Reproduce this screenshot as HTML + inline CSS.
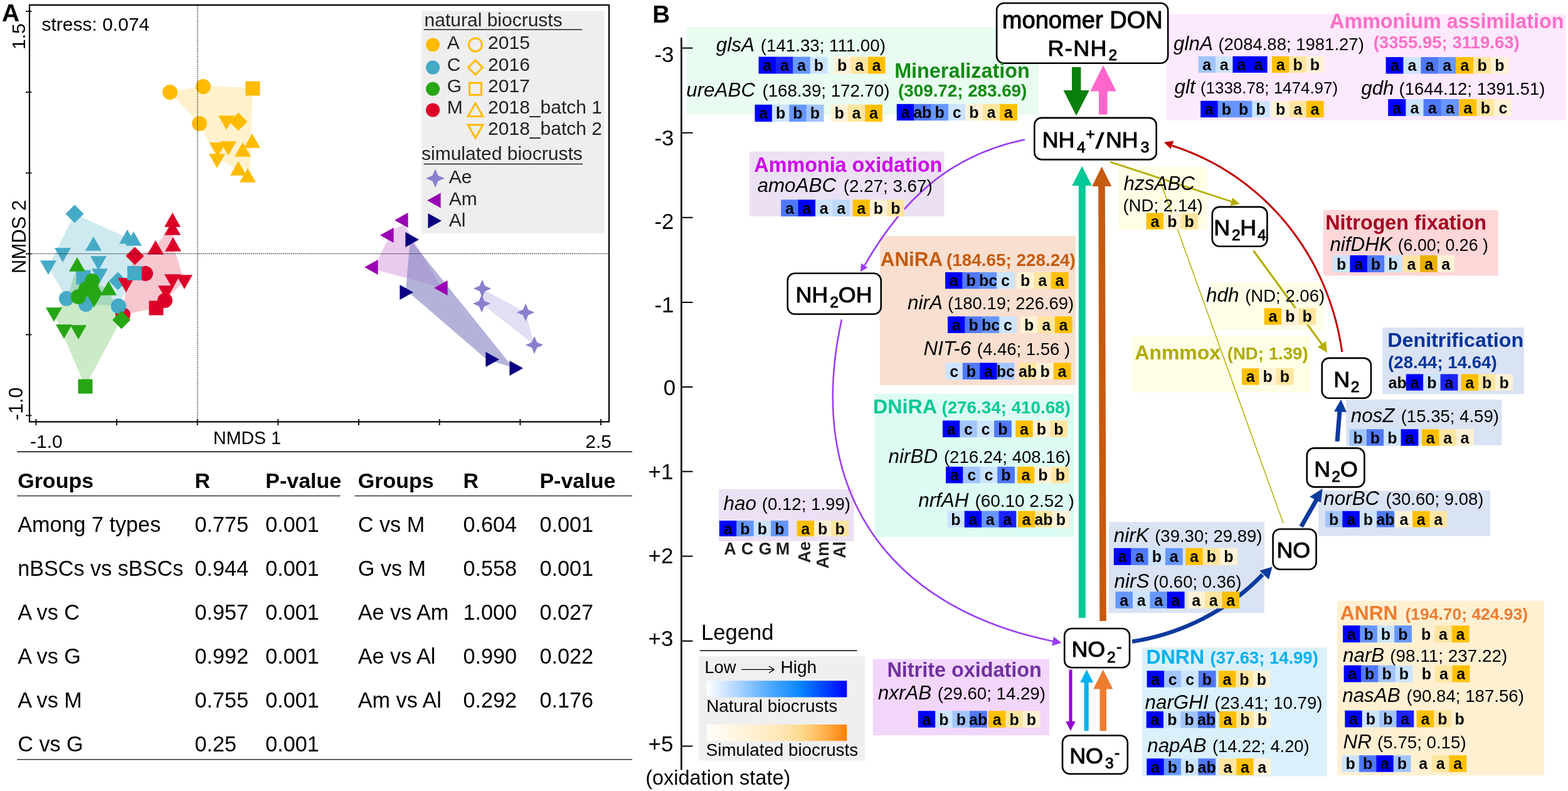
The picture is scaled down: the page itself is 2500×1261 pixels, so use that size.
<!DOCTYPE html><html><head><meta charset="utf-8"><title>Figure</title><style>html,body{margin:0;padding:0;background:#fff;}svg{display:block;}text{font-family:"Liberation Sans", Arial, Helvetica, sans-serif;}</style></head><body>
<svg width="2500" height="1261" viewBox="0 0 2500 1261">
<rect width="2500" height="1261" fill="#fff"/>
<text x="3.0" y="34.0" font-size="39" font-weight="bold" font-style="normal" fill="#000" text-anchor="start" >A</text>
<text x="66.5" y="49.0" font-size="30" font-weight="normal" font-style="normal" fill="#000" text-anchor="start" >stress: 0.074</text>
<polygon points="270.0,147.0 323.0,137.0 403.0,140.0 399.0,270.0 380.0,272.0 343.0,250.0 318.0,196.0" fill="#ffbb00" fill-opacity="0.2"/>
<polygon points="119.0,341.0 203.0,379.0 213.0,382.0 214.0,436.0 189.0,488.0 137.0,485.0 106.0,476.0 77.0,425.0" fill="#45aac6" fill-opacity="0.26"/>
<polygon points="123.0,423.0 147.0,448.0 173.0,461.0 193.0,510.0 136.0,616.0 86.0,500.0 107.0,476.0" fill="#26a614" fill-opacity="0.24"/>
<polygon points="275.0,352.0 276.0,391.0 294.0,448.0 263.0,479.0 249.0,491.0 196.0,502.0 201.0,453.0 215.0,408.0 248.0,396.0" fill="#dc0028" fill-opacity="0.22"/>
<polygon points="645,358 626,366 602,415 602,431 703,458" fill="#dca8e2" fill-opacity="0.6"/>
<polygon points="654,382 647,462 776,573 818,586" fill="#8a88c4" fill-opacity="0.65"/>
<polygon points="770,461 768,484 852,550 838,498" fill="#e2def4"/>
<circle cx="271" cy="147" r="12.0" fill="#ffbb00"/>
<circle cx="324" cy="138" r="12.0" fill="#ffbb00"/>
<circle cx="318" cy="197" r="12.0" fill="#ffbb00"/>
<rect x="391.5" y="129.5" width="23.0" height="23.0" fill="#ffbb00"/>
<polygon points="380,179.5 394.5,194 380,208.5 365.5,194" fill="#ffbb00"/>
<polygon points="361,207.0 374.0,184.25 348.0,184.25" fill="#ffbb00"/>
<polygon points="347,250.0 360.0,227.25 334.0,227.25" fill="#ffbb00"/>
<polygon points="364,248.0 377.0,225.25 351.0,225.25" fill="#ffbb00"/>
<polygon points="402,213.0 415.0,235.75 389.0,235.75" fill="#ffbb00"/>
<polygon points="387,227.0 400.0,249.75 374.0,249.75" fill="#ffbb00"/>
<polygon points="346,268.0 359.0,245.25 333.0,245.25" fill="#ffbb00"/>
<polygon points="380,257.0 393.0,279.75 367.0,279.75" fill="#ffbb00"/>
<polygon points="395,268.0 408.0,290.75 382.0,290.75" fill="#ffbb00"/>
<polygon points="119,326.5 133.5,341 119,355.5 104.5,341" fill="#45aac6"/>
<polygon points="203,366.0 216.0,388.75 190.0,388.75" fill="#45aac6"/>
<polygon points="213,369.0 226.0,391.75 200.0,391.75" fill="#45aac6"/>
<polygon points="149,377.0 162.0,399.75 136.0,399.75" fill="#45aac6"/>
<polygon points="100,418.0 113.0,395.25 87.0,395.25" fill="#45aac6"/>
<polygon points="77,438.0 90.0,415.25 64.0,415.25" fill="#45aac6"/>
<polygon points="157,431.0 170.0,408.25 144.0,408.25" fill="#45aac6"/>
<polygon points="159,451.0 172.0,428.25 146.0,428.25" fill="#45aac6"/>
<rect x="121.5" y="430.5" width="23.0" height="23.0" fill="#45aac6"/>
<polygon points="188,433.5 202.5,448 188,462.5 173.5,448" fill="#45aac6"/>
<circle cx="106" cy="476" r="12.0" fill="#45aac6"/>
<circle cx="137" cy="485" r="12.0" fill="#45aac6"/>
<circle cx="189" cy="488" r="12.0" fill="#45aac6"/>
<polygon points="123,410.0 136.0,432.75 110.0,432.75" fill="#26a614"/>
<circle cx="147" cy="448" r="12.0" fill="#26a614"/>
<circle cx="137" cy="461" r="12.0" fill="#26a614"/>
<circle cx="125" cy="473" r="12.0" fill="#26a614"/>
<polygon points="173,448.0 186.0,470.75 160.0,470.75" fill="#26a614"/>
<polygon points="150,445.0 163.0,467.75 137.0,467.75" fill="#26a614"/>
<polygon points="150,490.0 163.0,467.25 137.0,467.25" fill="#26a614"/>
<polygon points="86,513.0 99.0,490.25 73.0,490.25" fill="#26a614"/>
<polygon points="102,540.0 115.0,517.25 89.0,517.25" fill="#26a614"/>
<polygon points="125,541.0 138.0,518.25 112.0,518.25" fill="#26a614"/>
<rect x="124.5" y="604.5" width="23.0" height="23.0" fill="#26a614"/>
<polygon points="275,339.0 288.0,361.75 262.0,361.75" fill="#dc0028"/>
<polygon points="275,352.0 288.0,374.75 262.0,374.75" fill="#dc0028"/>
<polygon points="276,378.0 289.0,400.75 263.0,400.75" fill="#dc0028"/>
<polygon points="248,383.0 261.0,405.75 235.0,405.75" fill="#dc0028"/>
<polygon points="215,393.5 229.5,408 215,422.5 200.5,408" fill="#dc0028"/>
<circle cx="232" cy="436" r="12.0" fill="#dc0028"/>
<polygon points="201,466.0 214.0,443.25 188.0,443.25" fill="#dc0028"/>
<polygon points="275,460.0 288.0,437.25 262.0,437.25" fill="#dc0028"/>
<polygon points="294,461.0 307.0,438.25 281.0,438.25" fill="#dc0028"/>
<polygon points="265,478.0 278.0,455.25 252.0,455.25" fill="#dc0028"/>
<circle cx="263" cy="479" r="12.0" fill="#dc0028"/>
<rect x="237.5" y="479.5" width="23.0" height="23.0" fill="#dc0028"/>
<circle cx="196" cy="502" r="12.0" fill="#dc0028"/>
<rect x="203.0" y="424.0" width="23.0" height="23.0" fill="#45aac6"/>
<circle cx="189" cy="488" r="12.0" fill="#45aac6"/>
<polygon points="193.6,495.5 208.1,510 193.6,524.5 179.1,510" fill="#26a614"/>
<polygon points="629.0,351 650.6,339.0 650.6,363.0" fill="#9900b4"/>
<polygon points="606.0,375 627.6,363.0 627.6,387.0" fill="#9900b4"/>
<polygon points="581.0,426 602.6,414.0 602.6,438.0" fill="#9900b4"/>
<polygon points="692.0,459 713.6,447.0 713.6,471.0" fill="#9900b4"/>
<polygon points="668.0,382 646.4,370.0 646.4,394.0" fill="#0a0082"/>
<polygon points="659.0,466 637.4,454.0 637.4,478.0" fill="#0a0082"/>
<polygon points="796.0,573 774.4,561.0 774.4,585.0" fill="#0a0082"/>
<polygon points="834.0,587 812.4,575.0 812.4,599.0" fill="#0a0082"/>
<polygon points="769,445.8 773.3,455.7 783.2,460 773.3,464.3 769,474.2 764.7,464.3 754.8,460 764.7,455.7" fill="#8880cc"/>
<polygon points="768,469.8 772.3,479.7 782.2,484 772.3,488.3 768,498.2 763.7,488.3 753.8,484 763.7,479.7" fill="#8880cc"/>
<polygon points="838,483.8 842.3,493.7 852.2,498 842.3,502.3 838,512.2 833.7,502.3 823.8,498 833.7,493.7" fill="#8880cc"/>
<polygon points="852,535.8 856.3,545.7 866.2,550 856.3,554.3 852,564.2 847.7,554.3 837.8,550 847.7,545.7" fill="#8880cc"/>
<line x1="315" y1="9" x2="315" y2="671" stroke="#222" stroke-width="1.1" stroke-dasharray="2,1.2"/>
<line x1="48" y1="404.5" x2="970" y2="404.5" stroke="#222" stroke-width="1.1" stroke-dasharray="2,1.2"/>
<rect x="672.0" y="17.5" width="292.0" height="354.3" fill="#eeeeee" />
<text x="676.6" y="42.2" font-size="30" font-weight="normal" font-style="normal" fill="#231f20" text-anchor="start" >natural biocrusts</text>
<line x1="675.7" y1="47.3" x2="928.2" y2="47.3" stroke="#231f20" stroke-width="1.5"/>
<circle cx="690.1" cy="71.4" r="11" fill="#ffbb00"/>
<text x="712.7" y="77.8" font-size="30" font-weight="normal" font-style="normal" fill="#231f20" text-anchor="start" >A</text>
<circle cx="758" cy="71.4" r="10.5" fill="none" stroke="#ffbb00" stroke-width="3"/>
<text x="778.1" y="77.8" font-size="30" font-weight="normal" font-style="normal" fill="#231f20" text-anchor="start" >2015</text>
<circle cx="690.1" cy="107.6" r="11" fill="#45aac6"/>
<text x="712.7" y="113.0" font-size="30" font-weight="normal" font-style="normal" fill="#231f20" text-anchor="start" >C</text>
<polygon points="758,96.1 769.5,107.6 758,119.1 746.5,107.6" fill="none" stroke="#ffbb00" stroke-width="3"/>
<text x="778.1" y="113.0" font-size="30" font-weight="normal" font-style="normal" fill="#231f20" text-anchor="start" >2016</text>
<circle cx="690.1" cy="141.7" r="11" fill="#26a614"/>
<text x="712.7" y="147.0" font-size="30" font-weight="normal" font-style="normal" fill="#231f20" text-anchor="start" >G</text>
<rect x="748.5" y="132.2" width="19.0" height="19.0" fill="none" stroke="#ffbb00" stroke-width="3"/>
<text x="778.1" y="147.0" font-size="30" font-weight="normal" font-style="normal" fill="#231f20" text-anchor="start" >2017</text>
<circle cx="690.1" cy="175.4" r="11" fill="#dc0028"/>
<text x="712.7" y="180.8" font-size="30" font-weight="normal" font-style="normal" fill="#231f20" text-anchor="start" >M</text>
<polygon points="758,164.4 770,185.4 746,185.4" fill="none" stroke="#ffbb00" stroke-width="3"/>
<text x="778.1" y="180.8" font-size="30" font-weight="normal" font-style="normal" fill="#231f20" text-anchor="start" >2018_batch 1</text>
<polygon points="758,220 770,199 746,199" fill="none" stroke="#ffbb00" stroke-width="3"/>
<text x="778.1" y="214.5" font-size="30" font-weight="normal" font-style="normal" fill="#231f20" text-anchor="start" >2018_batch 2</text>
<text x="672.0" y="254.7" font-size="30" font-weight="normal" font-style="normal" fill="#231f20" text-anchor="start" >simulated biocrusts</text>
<line x1="675.7" y1="261.6" x2="929" y2="261.6" stroke="#231f20" stroke-width="1.5"/>
<polygon points="694,269.28999999999996 698.515,279.685 708.91,284.2 698.515,288.715 694,299.11 689.485,288.715 679.09,284.2 689.485,279.685" fill="#8880cc"/>
<text x="715.8" y="292.3" font-size="30" font-weight="normal" font-style="normal" fill="#231f20" text-anchor="start" >Ae</text>
<polygon points="681.0,319.5 702.6,307.5 702.6,331.5" fill="#9900b4"/>
<text x="715.8" y="327.0" font-size="30" font-weight="normal" font-style="normal" fill="#231f20" text-anchor="start" >Am</text>
<polygon points="704.0,352 682.4,340.0 682.4,364.0" fill="#0a0082"/>
<text x="715.8" y="361.0" font-size="30" font-weight="normal" font-style="normal" fill="#231f20" text-anchor="start" >Al</text>
<rect x="47" y="8" width="924" height="664.4" fill="none" stroke="#000" stroke-width="2.2"/>
<line x1="41" y1="18" x2="50.5" y2="18" stroke="#000" stroke-width="1.8"/>
<line x1="41" y1="146.9" x2="50.5" y2="146.9" stroke="#000" stroke-width="1.8"/>
<line x1="41" y1="275.7" x2="50.5" y2="275.7" stroke="#000" stroke-width="1.8"/>
<line x1="41" y1="404.6" x2="50.5" y2="404.6" stroke="#000" stroke-width="1.8"/>
<line x1="41" y1="533.5" x2="50.5" y2="533.5" stroke="#000" stroke-width="1.8"/>
<line x1="41" y1="662.4" x2="50.5" y2="662.4" stroke="#000" stroke-width="1.8"/>
<line x1="57.4" y1="668" x2="57.4" y2="678" stroke="#000" stroke-width="1.8"/>
<line x1="186.1" y1="668" x2="186.1" y2="678" stroke="#000" stroke-width="1.8"/>
<line x1="314.7" y1="668" x2="314.7" y2="678" stroke="#000" stroke-width="1.8"/>
<line x1="443.4" y1="668" x2="443.4" y2="678" stroke="#000" stroke-width="1.8"/>
<line x1="572.0" y1="668" x2="572.0" y2="678" stroke="#000" stroke-width="1.8"/>
<line x1="700.7" y1="668" x2="700.7" y2="678" stroke="#000" stroke-width="1.8"/>
<line x1="829.4" y1="668" x2="829.4" y2="678" stroke="#000" stroke-width="1.8"/>
<line x1="958.0" y1="668" x2="958.0" y2="678" stroke="#000" stroke-width="1.8"/>
<text x="0.0" y="0.0" font-size="30" font-weight="normal" font-style="normal" fill="#000" text-anchor="start" transform="translate(40,79) rotate(-90)">1.5</text>
<text x="0.0" y="0.0" font-size="30.5" font-weight="normal" font-style="normal" fill="#000" text-anchor="start" transform="translate(36,670) rotate(-90)">-1.0</text>
<text x="0.0" y="0.0" font-size="31" font-weight="normal" font-style="normal" fill="#000" text-anchor="start" transform="translate(40.6,436) rotate(-90)">NMDS 2</text>
<text x="48.0" y="713.6" font-size="30" font-weight="normal" font-style="normal" fill="#000" text-anchor="start" >-1.0</text>
<text x="340.0" y="707.6" font-size="28.6" font-weight="normal" font-style="normal" fill="#000" text-anchor="start" >NMDS 1</text>
<text x="975.0" y="713.6" font-size="30" font-weight="normal" font-style="normal" fill="#000" text-anchor="end" >2.5</text>
<line x1="27.3" y1="720.3" x2="1008" y2="720.3" stroke="#000" stroke-width="1.5"/>
<line x1="27.3" y1="790.6" x2="542.6" y2="790.6" stroke="#333" stroke-width="1.5"/>
<line x1="565.4" y1="790.6" x2="1008" y2="790.6" stroke="#333" stroke-width="1.5"/>
<line x1="27.3" y1="1210.8" x2="1008" y2="1210.8" stroke="#333" stroke-width="1.5"/>
<text x="28.2" y="777.8" font-size="34" font-weight="bold" font-style="normal" fill="#000" text-anchor="start" >Groups</text>
<text x="310.6" y="777.8" font-size="34" font-weight="bold" font-style="normal" fill="#000" text-anchor="start" >R</text>
<text x="423.3" y="777.8" font-size="34" font-weight="bold" font-style="normal" fill="#000" text-anchor="start" >P-value</text>
<text x="570.8" y="777.8" font-size="34" font-weight="bold" font-style="normal" fill="#000" text-anchor="start" >Groups</text>
<text x="738.5" y="777.8" font-size="34" font-weight="bold" font-style="normal" fill="#000" text-anchor="start" >R</text>
<text x="860.4" y="777.8" font-size="34" font-weight="bold" font-style="normal" fill="#000" text-anchor="start" >P-value</text>
<text x="28.2" y="848.0" font-size="34.2" font-weight="normal" font-style="normal" fill="#000" text-anchor="start" >Among 7 types</text>
<text x="310.6" y="848.0" font-size="34.2" font-weight="normal" font-style="normal" fill="#000" text-anchor="start" >0.775</text>
<text x="423.3" y="848.0" font-size="34.2" font-weight="normal" font-style="normal" fill="#000" text-anchor="start" >0.001</text>
<text x="28.2" y="918.0" font-size="34.2" font-weight="normal" font-style="normal" fill="#000" text-anchor="start" >nBSCs vs sBSCs</text>
<text x="310.6" y="918.0" font-size="34.2" font-weight="normal" font-style="normal" fill="#000" text-anchor="start" >0.944</text>
<text x="423.3" y="918.0" font-size="34.2" font-weight="normal" font-style="normal" fill="#000" text-anchor="start" >0.001</text>
<text x="28.2" y="988.0" font-size="34.2" font-weight="normal" font-style="normal" fill="#000" text-anchor="start" >A vs C</text>
<text x="310.6" y="988.0" font-size="34.2" font-weight="normal" font-style="normal" fill="#000" text-anchor="start" >0.957</text>
<text x="423.3" y="988.0" font-size="34.2" font-weight="normal" font-style="normal" fill="#000" text-anchor="start" >0.001</text>
<text x="28.2" y="1058.0" font-size="34.2" font-weight="normal" font-style="normal" fill="#000" text-anchor="start" >A vs G</text>
<text x="310.6" y="1058.0" font-size="34.2" font-weight="normal" font-style="normal" fill="#000" text-anchor="start" >0.992</text>
<text x="423.3" y="1058.0" font-size="34.2" font-weight="normal" font-style="normal" fill="#000" text-anchor="start" >0.001</text>
<text x="28.2" y="1128.0" font-size="34.2" font-weight="normal" font-style="normal" fill="#000" text-anchor="start" >A vs M</text>
<text x="310.6" y="1128.0" font-size="34.2" font-weight="normal" font-style="normal" fill="#000" text-anchor="start" >0.755</text>
<text x="423.3" y="1128.0" font-size="34.2" font-weight="normal" font-style="normal" fill="#000" text-anchor="start" >0.001</text>
<text x="28.2" y="1198.0" font-size="34.2" font-weight="normal" font-style="normal" fill="#000" text-anchor="start" >C vs G</text>
<text x="310.6" y="1198.0" font-size="34.2" font-weight="normal" font-style="normal" fill="#000" text-anchor="start" >0.25</text>
<text x="423.3" y="1198.0" font-size="34.2" font-weight="normal" font-style="normal" fill="#000" text-anchor="start" >0.001</text>
<text x="570.8" y="848.0" font-size="34.2" font-weight="normal" font-style="normal" fill="#000" text-anchor="start" >C vs M</text>
<text x="738.5" y="848.0" font-size="34.2" font-weight="normal" font-style="normal" fill="#000" text-anchor="start" >0.604</text>
<text x="860.4" y="848.0" font-size="34.2" font-weight="normal" font-style="normal" fill="#000" text-anchor="start" >0.001</text>
<text x="570.8" y="918.0" font-size="34.2" font-weight="normal" font-style="normal" fill="#000" text-anchor="start" >G vs M</text>
<text x="738.5" y="918.0" font-size="34.2" font-weight="normal" font-style="normal" fill="#000" text-anchor="start" >0.558</text>
<text x="860.4" y="918.0" font-size="34.2" font-weight="normal" font-style="normal" fill="#000" text-anchor="start" >0.001</text>
<text x="570.8" y="988.0" font-size="34.2" font-weight="normal" font-style="normal" fill="#000" text-anchor="start" >Ae vs Am</text>
<text x="738.5" y="988.0" font-size="34.2" font-weight="normal" font-style="normal" fill="#000" text-anchor="start" >1.000</text>
<text x="860.4" y="988.0" font-size="34.2" font-weight="normal" font-style="normal" fill="#000" text-anchor="start" >0.027</text>
<text x="570.8" y="1058.0" font-size="34.2" font-weight="normal" font-style="normal" fill="#000" text-anchor="start" >Ae vs Al</text>
<text x="738.5" y="1058.0" font-size="34.2" font-weight="normal" font-style="normal" fill="#000" text-anchor="start" >0.990</text>
<text x="860.4" y="1058.0" font-size="34.2" font-weight="normal" font-style="normal" fill="#000" text-anchor="start" >0.022</text>
<text x="570.8" y="1128.0" font-size="34.2" font-weight="normal" font-style="normal" fill="#000" text-anchor="start" >Am vs Al</text>
<text x="738.5" y="1128.0" font-size="34.2" font-weight="normal" font-style="normal" fill="#000" text-anchor="start" >0.292</text>
<text x="860.4" y="1128.0" font-size="34.2" font-weight="normal" font-style="normal" fill="#000" text-anchor="start" >0.176</text>
<text x="1040.3" y="35.6" font-size="38.69" font-weight="bold" font-style="normal" fill="#000" >B</text>
<rect x="1094.7" y="43.0" width="561.3" height="140.2" fill="#e8fcf0" />
<rect x="1860.0" y="22.9" width="637.0" height="169.0" fill="#fde9fd" />
<rect x="1195.0" y="241.7" width="310.4" height="103.3" fill="#ece1f4" />
<rect x="1783.7" y="266.4" width="141.1" height="100.0" fill="#fefee6" />
<rect x="2109.8" y="334.8" width="279.2" height="104.7" fill="#fdd6d7" />
<rect x="1403.0" y="376.4" width="312.0" height="237.6" fill="#f9dfcf" />
<rect x="1929.3" y="450.9" width="181.1" height="74.7" fill="#fefee6" />
<rect x="1804.8" y="535.2" width="283.5" height="90.4" fill="#fefee6" />
<rect x="2204.3" y="522.2" width="225.7" height="106.1" fill="#dae3f3" />
<rect x="2146.2" y="636.9" width="248.0" height="72.9" fill="#dae3f3" />
<rect x="1394.7" y="627.6" width="317.9" height="228.4" fill="#dcfcf3" />
<rect x="2102.0" y="782.0" width="274.0" height="72.5" fill="#dae3f3" />
<rect x="1767.9" y="832.0" width="248.0" height="145.3" fill="#dae3f3" />
<rect x="1145.9" y="779.7" width="215.4" height="83.3" fill="#ece1f4" />
<rect x="1113.6" y="1046.2" width="265.7" height="166.2" fill="#efefef" />
<rect x="1391.8" y="1050.6" width="281.1" height="121.6" fill="#f3d6fb" />
<rect x="1821.0" y="1032.4" width="294.7" height="205.1" fill="#daf0fa" />
<rect x="2131.9" y="957.6" width="330.1" height="278.6" fill="#fff0d2" />
<line x1="1086.4" y1="60" x2="1086.4" y2="1227.5" stroke="#000" stroke-width="2.6"/>
<line x1="1086.5" y1="76.6" x2="1104.5" y2="76.6" stroke="#000" stroke-width="2"/>
<line x1="1086.5" y1="211.7" x2="1104.5" y2="211.7" stroke="#000" stroke-width="2"/>
<line x1="1086.5" y1="346.8" x2="1104.5" y2="346.8" stroke="#000" stroke-width="2"/>
<line x1="1086.5" y1="482" x2="1104.5" y2="482" stroke="#000" stroke-width="2"/>
<line x1="1086.5" y1="616.9" x2="1104.5" y2="616.9" stroke="#000" stroke-width="2"/>
<line x1="1086.5" y1="751.7" x2="1104.5" y2="751.7" stroke="#000" stroke-width="2"/>
<line x1="1086.5" y1="886.7" x2="1104.5" y2="886.7" stroke="#000" stroke-width="2"/>
<line x1="1086.5" y1="1021.9" x2="1104.5" y2="1021.9" stroke="#000" stroke-width="2"/>
<line x1="1086.5" y1="1189.5" x2="1104.5" y2="1189.5" stroke="#000" stroke-width="2"/>
<text x="1043.4" y="98.7" font-size="35.00" font-weight="normal" font-style="normal" fill="#000" >-3</text>
<text x="1043.4" y="231.9" font-size="35.00" font-weight="normal" font-style="normal" fill="#000" >-3</text>
<text x="1043.4" y="365.1" font-size="35.00" font-weight="normal" font-style="normal" fill="#000" >-2</text>
<text x="1043.4" y="498.4" font-size="35.00" font-weight="normal" font-style="normal" fill="#000" >-1</text>
<text x="1057.7" y="630.3" font-size="35.00" font-weight="normal" font-style="normal" fill="#000" >0</text>
<text x="1033.6" y="763.5" font-size="35.00" font-weight="normal" font-style="normal" fill="#000" >+1</text>
<text x="1033.6" y="898.3" font-size="35.00" font-weight="normal" font-style="normal" fill="#000" >+2</text>
<text x="1033.6" y="1029.6" font-size="35.00" font-weight="normal" font-style="normal" fill="#000" >+3</text>
<text x="1033.6" y="1198.2" font-size="35.00" font-weight="normal" font-style="normal" fill="#000" >+5</text>
<text x="1029.2" y="1250.8" font-size="32.49" font-weight="normal" font-style="normal" fill="#000" >(oxidation state)</text>
<text x="1117.9" y="1020.1" font-size="34.61" font-weight="normal" font-style="normal" fill="#000" >Legend</text>
<line x1="1115.8" y1="1037.3" x2="1366.6" y2="1037.3" stroke="#000" stroke-width="1.5"/>
<text x="1123.4" y="1072.5" font-size="27.35" font-weight="normal" font-style="normal" fill="#000" >Low</text>
<line x1="1182.2" y1="1067.4" x2="1233" y2="1067.4" stroke="#000" stroke-width="1.3"/>
<polyline points="1226,1062 1234.4,1067.4 1226,1072.8" fill="none" stroke="#000" stroke-width="1.3"/>
<text x="1244.4" y="1072.5" font-size="28.06" font-weight="normal" font-style="normal" fill="#000" >High</text>
<defs><linearGradient id="gb" x1="0" x2="1" y1="0" y2="0"><stop offset="0" stop-color="#ffffff"/><stop offset="0.2" stop-color="#b4d8ff"/><stop offset="0.45" stop-color="#50aaff"/><stop offset="0.66" stop-color="#0a88ff"/><stop offset="0.85" stop-color="#0040ff"/><stop offset="1" stop-color="#0000ff"/></linearGradient><linearGradient id="go" x1="0" x2="1" y1="0" y2="0"><stop offset="0" stop-color="#fffdf8"/><stop offset="0.3" stop-color="#fff1d6"/><stop offset="0.55" stop-color="#ffe6b2"/><stop offset="0.68" stop-color="#fed98c"/><stop offset="0.85" stop-color="#ffae48"/><stop offset="1" stop-color="#ff8005"/></linearGradient></defs>
<rect x="1127.0" y="1085.2" width="223.3" height="26.3" fill="url(#gb)" />
<text x="1126.2" y="1134.9" font-size="27.85" font-weight="normal" font-style="normal" fill="#000" >Natural biocrusts</text>
<rect x="1127.0" y="1155.0" width="223.3" height="26.2" fill="url(#go)" />
<text x="1125.8" y="1205.1" font-size="27.78" font-weight="normal" font-style="normal" fill="#000" >Simulated biocrusts</text>
<path d="M1634.1,222.5 C1513.1,247.4 1438.5,319.1 1378.5,423" fill="none" stroke="#9b3cf5" stroke-width="2.6"/>
<polygon points="1371.8,433.2 1373.1,419.7 1383.5,426.5" fill="#9b3cf5"/>
<path d="M1342,509.4 C1283.1,775.7 1409.3,967.5 1680,1022.5" fill="none" stroke="#9b3cf5" stroke-width="2.6"/>
<polygon points="1692.5,1024.8 1677.2,1029.7 1679.8,1014.9" fill="#9b3cf5"/>
<path d="M2139.8,561.1 C2118.4,408.5 2016.9,279.7 1869,232.2" fill="none" stroke="#c00000" stroke-width="3"/>
<polygon points="1855.9,226.8 1871.4,224.4 1866.6,237.5" fill="#c00000"/>
<line x1="1769.7" y1="258" x2="1964" y2="321.5" stroke="#b4ae00" stroke-width="2.8"/>
<polygon points="1976.9,325.3 1965.1,315.1 1961.3,328" fill="#b4ae00"/>
<line x1="1849.5" y1="288" x2="2046" y2="834" stroke="#b4ae00" stroke-width="1.5"/>
<line x1="1998.6" y1="399.8" x2="2110" y2="552" stroke="#b4ae00" stroke-width="3.2"/>
<polygon points="2116,562.4 2101,553 2114,544" fill="#b4ae00"/>
<path d="M1805.2,1022.8 C1883.4,1010.7 1958.2,973.3 2013,916" fill="none" stroke="#0b3a9e" stroke-width="6.5"/>
<polygon points="2028.6,903.5 2008.3,909.8 2022.9,923.8" fill="#0b3a9e"/>
<line x1="2074.6" y1="839.6" x2="2100" y2="795" stroke="#0b3a9e" stroke-width="7"/>
<polygon points="2108.6,779 2088,792 2106,801" fill="#0b3a9e"/>
<line x1="2132" y1="703.7" x2="2136" y2="655" stroke="#0b3a9e" stroke-width="7"/>
<polygon points="2138,637 2127,656 2147,657" fill="#0b3a9e"/>
<rect x="1719.8" y="295" width="11" height="690" fill="#00c896"/>
<polygon points="1725.2,264.8 1740.8,296 1709.2,296" fill="#00c896"/>
<polygon points="1751.2,296 1761.8,296 1763.8,990 1753.3,990" fill="#c55a11"/>
<polygon points="1756.6,265.6 1772.2,297 1741.2,297" fill="#c55a11"/>
<rect x="1709" y="107" width="14.4" height="38" fill="#0a7f0a"/>
<polygon points="1695.5,144 1736.7,144 1716,184.5" fill="#0a7f0a"/>
<rect x="1752" y="144" width="13.6" height="38.5" fill="#ff66cc"/>
<polygon points="1759,104 1779.6,145.4 1738.4,145.4" fill="#ff66cc"/>
<rect x="1704.5" y="1067.4" width="5" height="85" fill="#9900cc"/>
<polygon points="1699.2,1150 1714.6,1150 1707,1165.2" fill="#9900cc"/>
<polygon points="1728.6,1087 1735.7,1087 1735.7,1165.2 1728.6,1165.2" fill="#00b0f0"/>
<polygon points="1732.5,1067.4 1743.2,1088 1722.1,1088" fill="#00b0f0"/>
<polygon points="1753.5,1098 1764,1098 1764,1165.2 1753.5,1165.2" fill="#ed7d31"/>
<polygon points="1758.7,1067.4 1774.4,1098.5 1743.2,1098.5" fill="#ed7d31"/>
<rect x="1589.1" y="5.0" width="273.1" height="95.7" rx="11.5" ry="11.5" fill="#fff" stroke="#000" stroke-width="2.6"/>
<rect x="1649.3" y="187.9" width="194.4" height="66.5" rx="11.5" ry="11.5" fill="#fff" stroke="#000" stroke-width="2.6"/>
<rect x="1255.7" y="435.7" width="149.0" height="65.0" rx="11.5" ry="11.5" fill="#fff" stroke="#000" stroke-width="2.6"/>
<rect x="1932.8" y="329.9" width="87.6" height="62.8" rx="11.5" ry="11.5" fill="#fff" stroke="#000" stroke-width="2.6"/>
<rect x="2107.7" y="570.9" width="78.2" height="63.8" rx="11.5" ry="11.5" fill="#fff" stroke="#000" stroke-width="2.6"/>
<rect x="2083.7" y="714.4" width="91.7" height="62.0" rx="11.5" ry="11.5" fill="#fff" stroke="#000" stroke-width="2.6"/>
<rect x="2029.6" y="843.5" width="69.0" height="64.2" rx="11.5" ry="11.5" fill="#fff" stroke="#000" stroke-width="2.6"/>
<rect x="1697.2" y="1002.0" width="103.8" height="62.3" rx="11.5" ry="11.5" fill="#fff" stroke="#000" stroke-width="2.6"/>
<rect x="1694.0" y="1172.5" width="103.8" height="61.2" rx="11.5" ry="11.5" fill="#fff" stroke="#000" stroke-width="2.6"/>
<text x="1597.8" y="44.8" font-size="38.08" font-weight="normal" font-style="normal" fill="#000" stroke="#000" stroke-width="1.0">monomer DON</text>
<text x="1670.5" y="88.8" font-size="35.80" font-weight="normal" font-style="normal" fill="#000" stroke="#000" stroke-width="1.0" letter-spacing="1.5">R-NH</text>
<text x="1767.5" y="96.4" font-size="24.50" font-weight="normal" font-style="normal" fill="#000" stroke="#000" stroke-width="1.0">2</text>
<text x="1661.7" y="235.0" font-size="35.80" font-weight="normal" font-style="normal" fill="#000" stroke="#000" stroke-width="1.0">NH</text>
<text x="1716.9" y="242.9" font-size="24.50" font-weight="normal" font-style="normal" fill="#000" stroke="#000" stroke-width="1.0">4</text>
<text x="1731.4" y="221.5" font-size="24.00" font-weight="normal" font-style="normal" fill="#000" stroke="#000" stroke-width="1.0">+</text>
<text transform="translate(1746.5,236.5) scale(1.4,1)" font-size="35.8" stroke="#000" stroke-width="0.5">/</text>
<text x="1762.9" y="235.0" font-size="35.80" font-weight="normal" font-style="normal" fill="#000" stroke="#000" stroke-width="1.0">NH</text>
<text x="1818.7" y="243.4" font-size="24.50" font-weight="normal" font-style="normal" fill="#000" stroke="#000" stroke-width="1.0">3</text>
<text x="1268.5" y="482.4" font-size="35.80" font-weight="normal" font-style="normal" fill="#000" stroke="#000" stroke-width="1.0">NH</text>
<text x="1323.3" y="490.0" font-size="24.50" font-weight="normal" font-style="normal" fill="#000" stroke="#000" stroke-width="1.0">2</text>
<text x="1336.8" y="482.4" font-size="35.80" font-weight="normal" font-style="normal" fill="#000" stroke="#000" stroke-width="1.0">OH</text>
<text x="1935.2" y="374.8" font-size="35.80" font-weight="normal" font-style="normal" fill="#000" stroke="#000" stroke-width="1.0">N</text>
<text x="1963.9" y="383.2" font-size="24.50" font-weight="normal" font-style="normal" fill="#000" stroke="#000" stroke-width="1.0">2</text>
<text x="1977.2" y="374.8" font-size="35.80" font-weight="normal" font-style="normal" fill="#000" stroke="#000" stroke-width="1.0">H</text>
<text x="2004.9" y="383.2" font-size="24.50" font-weight="normal" font-style="normal" fill="#000" stroke="#000" stroke-width="1.0">4</text>
<text x="2126.3" y="616.8" font-size="35.80" font-weight="normal" font-style="normal" fill="#000" stroke="#000" stroke-width="1.0">N</text>
<text x="2153.7" y="624.8" font-size="24.50" font-weight="normal" font-style="normal" fill="#000" stroke="#000" stroke-width="1.0">2</text>
<text x="2095.3" y="759.7" font-size="35.80" font-weight="normal" font-style="normal" fill="#000" stroke="#000" stroke-width="1.0">N</text>
<text x="2123.2" y="768.0" font-size="24.50" font-weight="normal" font-style="normal" fill="#000" stroke="#000" stroke-width="1.0">2</text>
<text x="2137.1" y="759.7" font-size="35.80" font-weight="normal" font-style="normal" fill="#000" stroke="#000" stroke-width="1.0">O</text>
<text x="2035.5" y="889.0" font-size="35.80" font-weight="normal" font-style="normal" fill="#000" stroke="#000" stroke-width="1.0">NO</text>
<text x="1708.5" y="1047.0" font-size="35.80" font-weight="normal" font-style="normal" fill="#000" stroke="#000" stroke-width="1.0">NO</text>
<text x="1765.1" y="1055.5" font-size="24.50" font-weight="normal" font-style="normal" fill="#000" stroke="#000" stroke-width="1.0">2</text>
<text x="1780.2" y="1038.5" font-size="24.50" font-weight="normal" font-style="normal" fill="#000" stroke="#000" stroke-width="1.0">-</text>
<text x="1705.2" y="1216.7" font-size="35.80" font-weight="normal" font-style="normal" fill="#000" stroke="#000" stroke-width="1.0">NO</text>
<text x="1762.1" y="1225.3" font-size="24.50" font-weight="normal" font-style="normal" fill="#000" stroke="#000" stroke-width="1.0">3</text>
<text x="1777.0" y="1208.2" font-size="24.50" font-weight="normal" font-style="normal" fill="#000" stroke="#000" stroke-width="1.0">-</text>
<text x="1426.2" y="124.0" font-size="32.34" font-weight="bold" font-style="normal" fill="#0e8a0e" >Mineralization</text>
<text x="1432.1" y="154.4" font-size="27.75" font-weight="bold" font-style="normal" fill="#0e8a0e" >(309.72; 283.69)</text>
<text x="2120.1" y="44.7" font-size="32.30" font-weight="bold" font-style="normal" fill="#ff6ec8" >Ammonium assimilation</text>
<text x="2189.7" y="76.7" font-size="27.59" font-weight="bold" font-style="normal" fill="#ff6ec8" >(3355.95; 3119.63)</text>
<text x="1202.3" y="274.4" font-size="32.33" font-weight="bold" font-style="normal" fill="#cc00ee" >Ammonia oxidation</text>
<text x="2113.3" y="366.2" font-size="32.30" font-weight="bold" font-style="normal" fill="#a50021" >Nitrogen fixation</text>
<text x="1403.7" y="423.6" font-size="31.46" font-weight="bold" font-style="normal" fill="#c55a11" >ANiRA</text>
<text x="1509.1" y="423.6" font-size="27.83" font-weight="bold" font-style="normal" fill="#c55a11" >(184.65; 228.24)</text>
<text x="1809.3" y="572.5" font-size="31.99" font-weight="bold" font-style="normal" fill="#aeaa00" >Anmmox</text>
<text x="1956.7" y="572.5" font-size="27.63" font-weight="bold" font-style="normal" fill="#aeaa00" >(ND; 1.39)</text>
<text x="2212.2" y="552.8" font-size="32.27" font-weight="bold" font-style="normal" fill="#003399" >Denitrification</text>
<text x="2213.1" y="586.8" font-size="27.63" font-weight="bold" font-style="normal" fill="#003399" >(28.44; 14.64)</text>
<text x="1392.1" y="659.0" font-size="32.19" font-weight="bold" font-style="normal" fill="#00c896" >DNiRA</text>
<text x="1501.4" y="659.0" font-size="27.79" font-weight="bold" font-style="normal" fill="#00c896" >(276.34; 410.68)</text>
<text x="1414.4" y="1078.5" font-size="32.38" font-weight="bold" font-style="normal" fill="#7030a0" >Nitrite oxidation</text>
<text x="1827.5" y="1058.0" font-size="32.09" font-weight="bold" font-style="normal" fill="#00b0f0" >DNRN</text>
<text x="1929.5" y="1058.0" font-size="27.43" font-weight="bold" font-style="normal" fill="#00b0f0" >(37.63; 14.99)</text>
<text x="2136.8" y="988.0" font-size="31.78" font-weight="bold" font-style="normal" fill="#ed7d31" >ANRN</text>
<text x="2240.5" y="988.0" font-size="26.46" font-weight="bold" font-style="normal" fill="#ed7d31" >(194.70; 424.93)</text>
<text x="1141.8" y="81.8" font-size="31.40" font-weight="normal" font-style="italic" fill="#000" >glsA</text>
<text x="1212.8" y="81.8" font-size="27.69" font-weight="normal" font-style="normal" fill="#000" >(141.33; 111.00)</text>
<text x="1094.2" y="154.4" font-size="31.40" font-weight="normal" font-style="italic" fill="#000" >ureABC</text>
<text x="1215.5" y="154.4" font-size="27.66" font-weight="normal" font-style="normal" fill="#000" >(168.39; 172.70)</text>
<text x="1871.1" y="80.4" font-size="31.40" font-weight="normal" font-style="italic" fill="#000" >glnA</text>
<text x="1942.4" y="80.4" font-size="27.51" font-weight="normal" font-style="normal" fill="#000" >(2084.88; 1981.27)</text>
<text x="1872.5" y="148.7" font-size="31.40" font-weight="normal" font-style="italic" fill="#000" >glt</text>
<text x="1913.9" y="148.7" font-size="25.95" font-weight="normal" font-style="normal" fill="#000" >(1338.78; 1474.97)</text>
<text x="2170.2" y="150.8" font-size="31.40" font-weight="normal" font-style="italic" fill="#000" >gdh</text>
<text x="2230.5" y="150.8" font-size="27.57" font-weight="normal" font-style="normal" fill="#000" >(1644.12; 1391.51)</text>
<text x="1207.5" y="306.0" font-size="31.40" font-weight="normal" font-style="italic" fill="#000" >amoABC</text>
<text x="1344.8" y="306.0" font-size="27.76" font-weight="normal" font-style="normal" fill="#000" >(2.27; 3.67)</text>
<text x="2120.4" y="399.9" font-size="31.40" font-weight="normal" font-style="italic" fill="#000" >nifDHK</text>
<text x="2228.7" y="399.9" font-size="26.74" font-weight="normal" font-style="normal" fill="#000" >(6.00; 0.26 )</text>
<text x="1447.0" y="492.5" font-size="31.40" font-weight="normal" font-style="italic" fill="#000" >nirA</text>
<text x="1511.0" y="492.5" font-size="27.42" font-weight="normal" font-style="normal" fill="#000" >(180.19; 226.69)</text>
<text x="1472.6" y="565.6" font-size="31.40" font-weight="normal" font-style="italic" fill="#000" >NIT-6</text>
<text x="1557.8" y="565.6" font-size="27.51" font-weight="normal" font-style="normal" fill="#000" >(4.46; 1.56 )</text>
<text x="1923.0" y="481.3" font-size="31.40" font-weight="normal" font-style="italic" fill="#000" >hdh</text>
<text x="1985.2" y="481.3" font-size="27.53" font-weight="normal" font-style="normal" fill="#000" >(ND; 2.06)</text>
<text x="2153.7" y="673.2" font-size="31.40" font-weight="normal" font-style="italic" fill="#000" >nosZ</text>
<text x="2233.7" y="673.2" font-size="27.56" font-weight="normal" font-style="normal" fill="#000" >(15.35; 4.59)</text>
<text x="1416.6" y="737.6" font-size="31.40" font-weight="normal" font-style="italic" fill="#000" >nirBD</text>
<text x="1504.9" y="737.6" font-size="27.57" font-weight="normal" font-style="normal" fill="#000" >(216.24; 408.16)</text>
<text x="1464.2" y="808.4" font-size="31.40" font-weight="normal" font-style="italic" fill="#000" >nrfAH</text>
<text x="1554.4" y="808.4" font-size="27.94" font-weight="normal" font-style="normal" fill="#000" >(60.10 2.52 )</text>
<text x="2110.3" y="804.7" font-size="31.40" font-weight="normal" font-style="italic" fill="#000" >norBC</text>
<text x="2209.5" y="804.7" font-size="27.51" font-weight="normal" font-style="normal" fill="#000" >(30.60; 9.08)</text>
<text x="1775.8" y="864.1" font-size="31.40" font-weight="normal" font-style="italic" fill="#000" >nirK</text>
<text x="1841.2" y="864.1" font-size="27.52" font-weight="normal" font-style="normal" fill="#000" >(39.30; 29.89)</text>
<text x="1776.6" y="937.4" font-size="31.40" font-weight="normal" font-style="italic" fill="#000" >nirS</text>
<text x="1838.7" y="937.4" font-size="27.54" font-weight="normal" font-style="normal" fill="#000" >(0.60; 0.36)</text>
<text x="1153.6" y="813.4" font-size="31.40" font-weight="normal" font-style="italic" fill="#000" >hao</text>
<text x="1214.8" y="813.4" font-size="27.62" font-weight="normal" font-style="normal" fill="#000" >(0.12; 1.99)</text>
<text x="1399.8" y="1114.7" font-size="31.40" font-weight="normal" font-style="italic" fill="#000" >nxrAB</text>
<text x="1494.8" y="1114.7" font-size="27.65" font-weight="normal" font-style="normal" fill="#000" >(29.60; 14.29)</text>
<text x="1825.5" y="1129.5" font-size="31.40" font-weight="normal" font-style="italic" fill="#000" >narGHI</text>
<text x="1936.5" y="1129.5" font-size="27.63" font-weight="normal" font-style="normal" fill="#000" >(23.41; 10.79)</text>
<text x="1829.2" y="1198.8" font-size="31.40" font-weight="normal" font-style="italic" fill="#000" >napAB</text>
<text x="1932.9" y="1198.8" font-size="27.29" font-weight="normal" font-style="normal" fill="#000" >(14.22; 4.20)</text>
<text x="2141.0" y="1054.7" font-size="31.40" font-weight="normal" font-style="italic" fill="#000" >narB</text>
<text x="2216.3" y="1054.7" font-size="27.87" font-weight="normal" font-style="normal" fill="#000" >(98.11; 237.22)</text>
<text x="2140.2" y="1119.0" font-size="31.40" font-weight="normal" font-style="italic" fill="#000" >nasAB</text>
<text x="2242.5" y="1119.0" font-size="27.64" font-weight="normal" font-style="normal" fill="#000" >(90.84; 187.56)</text>
<text x="2141.5" y="1192.7" font-size="31.40" font-weight="normal" font-style="italic" fill="#000" >NR</text>
<text x="2196.1" y="1192.7" font-size="27.68" font-weight="normal" font-style="normal" fill="#000" >(5.75; 0.15)</text>
<text x="1791.6" y="303.4" font-size="31.40" font-weight="normal" font-style="italic" fill="#000" >hzsABC</text>
<text x="1790.4" y="337.0" font-size="27.64" font-weight="normal" font-style="normal" fill="#000" >(ND; 2.14)</text>
<rect x="1209.5" y="90.5" width="27.8" height="27.0" fill="#0000ff" />
<text x="1223.2" y="113.0" font-size="25" font-weight="bold" font-style="normal" fill="#000" text-anchor="middle" >a</text>
<rect x="1236.9" y="90.5" width="27.8" height="27.0" fill="#1c22ff" />
<text x="1250.6" y="113.0" font-size="25" font-weight="bold" font-style="normal" fill="#000" text-anchor="middle" >a</text>
<rect x="1264.3" y="90.5" width="27.8" height="27.0" fill="#6696ff" />
<text x="1278.0" y="113.0" font-size="25" font-weight="bold" font-style="normal" fill="#000" text-anchor="middle" >a</text>
<rect x="1291.7" y="90.5" width="27.8" height="27.0" fill="#cce4ff" />
<text x="1305.4" y="113.0" font-size="25" font-weight="bold" font-style="normal" fill="#000" text-anchor="middle" >b</text>
<rect x="1329.0" y="90.5" width="27.8" height="27.0" fill="#fff2d6" />
<text x="1342.7" y="113.0" font-size="25" font-weight="bold" font-style="normal" fill="#000" text-anchor="middle" >b</text>
<rect x="1356.4" y="90.5" width="27.8" height="27.0" fill="#ffe5a0" />
<text x="1370.1" y="113.0" font-size="25" font-weight="bold" font-style="normal" fill="#000" text-anchor="middle" >a</text>
<rect x="1383.8" y="90.5" width="27.8" height="27.0" fill="#ffc000" />
<text x="1397.5" y="113.0" font-size="25" font-weight="bold" font-style="normal" fill="#000" text-anchor="middle" >a</text>
<rect x="1203.5" y="166.8" width="27.8" height="27.2" fill="#0000ff" />
<text x="1217.2" y="189.4" font-size="25" font-weight="bold" font-style="normal" fill="#000" text-anchor="middle" >a</text>
<rect x="1230.9" y="166.8" width="27.8" height="27.2" fill="#cce4ff" />
<text x="1244.6" y="189.4" font-size="25" font-weight="bold" font-style="normal" fill="#000" text-anchor="middle" >b</text>
<rect x="1258.3" y="166.8" width="27.8" height="27.2" fill="#6696ff" />
<text x="1272.0" y="189.4" font-size="25" font-weight="bold" font-style="normal" fill="#000" text-anchor="middle" >b</text>
<rect x="1285.7" y="166.8" width="27.8" height="27.2" fill="#a2c4fd" />
<text x="1299.4" y="189.4" font-size="25" font-weight="bold" font-style="normal" fill="#000" text-anchor="middle" >b</text>
<rect x="1324.4" y="166.8" width="27.8" height="27.2" fill="#fff2d6" />
<text x="1338.1" y="189.4" font-size="25" font-weight="bold" font-style="normal" fill="#000" text-anchor="middle" >b</text>
<rect x="1351.8" y="166.8" width="27.8" height="27.2" fill="#ffe5a0" />
<text x="1365.5" y="189.4" font-size="25" font-weight="bold" font-style="normal" fill="#000" text-anchor="middle" >a</text>
<rect x="1379.2" y="166.8" width="27.8" height="27.2" fill="#ffc000" />
<text x="1392.9" y="189.4" font-size="25" font-weight="bold" font-style="normal" fill="#000" text-anchor="middle" >a</text>
<rect x="1429.7" y="165.8" width="27.8" height="26.4" fill="#0000ff" />
<text x="1443.4" y="188.0" font-size="25" font-weight="bold" font-style="normal" fill="#000" text-anchor="middle" >a</text>
<rect x="1457.1" y="165.8" width="27.8" height="26.4" fill="#5078fa" />
<text x="1470.8" y="188.0" font-size="25" font-weight="bold" font-style="normal" fill="#000" text-anchor="middle" >ab</text>
<rect x="1484.5" y="165.8" width="27.8" height="26.4" fill="#6696ff" />
<text x="1498.2" y="188.0" font-size="25" font-weight="bold" font-style="normal" fill="#000" text-anchor="middle" >b</text>
<rect x="1511.9" y="165.8" width="27.8" height="26.4" fill="#cce4ff" />
<text x="1525.6" y="188.0" font-size="25" font-weight="bold" font-style="normal" fill="#000" text-anchor="middle" >c</text>
<rect x="1539.3" y="165.8" width="27.8" height="26.4" fill="#fff2d6" />
<text x="1553.0" y="188.0" font-size="25" font-weight="bold" font-style="normal" fill="#000" text-anchor="middle" >b</text>
<rect x="1566.7" y="165.8" width="27.8" height="26.4" fill="#ffe5a0" />
<text x="1580.4" y="188.0" font-size="25" font-weight="bold" font-style="normal" fill="#000" text-anchor="middle" >a</text>
<rect x="1594.1" y="165.8" width="27.8" height="26.4" fill="#ffc000" />
<text x="1607.8" y="188.0" font-size="25" font-weight="bold" font-style="normal" fill="#000" text-anchor="middle" >a</text>
<rect x="1910.6" y="89.7" width="27.8" height="26.2" fill="#a2c4fd" />
<text x="1924.3" y="111.8" font-size="25" font-weight="bold" font-style="normal" fill="#000" text-anchor="middle" >a</text>
<rect x="1938.0" y="89.7" width="27.8" height="26.2" fill="#cce4ff" />
<text x="1951.7" y="111.8" font-size="25" font-weight="bold" font-style="normal" fill="#000" text-anchor="middle" >a</text>
<rect x="1965.4" y="89.7" width="27.8" height="26.2" fill="#0000ff" />
<text x="1979.1" y="111.8" font-size="25" font-weight="bold" font-style="normal" fill="#000" text-anchor="middle" >a</text>
<rect x="1992.8" y="89.7" width="27.8" height="26.2" fill="#0000ff" />
<text x="2006.5" y="111.8" font-size="25" font-weight="bold" font-style="normal" fill="#000" text-anchor="middle" >a</text>
<rect x="2028.0" y="89.7" width="27.8" height="26.2" fill="#ffc000" />
<text x="2041.7" y="111.8" font-size="25" font-weight="bold" font-style="normal" fill="#000" text-anchor="middle" >a</text>
<rect x="2055.4" y="89.7" width="27.8" height="26.2" fill="#ffe5a0" />
<text x="2069.1" y="111.8" font-size="25" font-weight="bold" font-style="normal" fill="#000" text-anchor="middle" >b</text>
<rect x="2082.8" y="89.7" width="27.8" height="26.2" fill="#fff2d6" />
<text x="2096.5" y="111.8" font-size="25" font-weight="bold" font-style="normal" fill="#000" text-anchor="middle" >b</text>
<rect x="2209.6" y="91.0" width="28.3" height="26.5" fill="#0000ff" />
<text x="2223.6" y="113.2" font-size="25" font-weight="bold" font-style="normal" fill="#000" text-anchor="middle" >a</text>
<rect x="2237.5" y="91.0" width="28.3" height="26.5" fill="#cce4ff" />
<text x="2251.5" y="113.2" font-size="25" font-weight="bold" font-style="normal" fill="#000" text-anchor="middle" >a</text>
<rect x="2265.4" y="91.0" width="28.3" height="26.5" fill="#5078fa" />
<text x="2279.4" y="113.2" font-size="25" font-weight="bold" font-style="normal" fill="#000" text-anchor="middle" >a</text>
<rect x="2293.3" y="91.0" width="28.3" height="26.5" fill="#6696ff" />
<text x="2307.3" y="113.2" font-size="25" font-weight="bold" font-style="normal" fill="#000" text-anchor="middle" >a</text>
<rect x="2321.2" y="91.0" width="28.3" height="26.5" fill="#ffc000" />
<text x="2335.2" y="113.2" font-size="25" font-weight="bold" font-style="normal" fill="#000" text-anchor="middle" >a</text>
<rect x="2349.1" y="91.0" width="28.3" height="26.5" fill="#ffe5a0" />
<text x="2363.1" y="113.2" font-size="25" font-weight="bold" font-style="normal" fill="#000" text-anchor="middle" >b</text>
<rect x="2377.1" y="91.0" width="28.3" height="26.5" fill="#fff2d6" />
<text x="2391.0" y="113.2" font-size="25" font-weight="bold" font-style="normal" fill="#000" text-anchor="middle" >b</text>
<rect x="1914.2" y="160.7" width="27.8" height="26.5" fill="#0000ff" />
<text x="1927.9" y="182.9" font-size="25" font-weight="bold" font-style="normal" fill="#000" text-anchor="middle" >a</text>
<rect x="1941.6" y="160.7" width="27.8" height="26.5" fill="#6696ff" />
<text x="1955.3" y="182.9" font-size="25" font-weight="bold" font-style="normal" fill="#000" text-anchor="middle" >b</text>
<rect x="1969.0" y="160.7" width="27.8" height="26.5" fill="#6696ff" />
<text x="1982.7" y="182.9" font-size="25" font-weight="bold" font-style="normal" fill="#000" text-anchor="middle" >b</text>
<rect x="1996.4" y="160.7" width="27.8" height="26.5" fill="#cce4ff" />
<text x="2010.1" y="182.9" font-size="25" font-weight="bold" font-style="normal" fill="#000" text-anchor="middle" >b</text>
<rect x="2028.0" y="160.7" width="27.8" height="26.5" fill="#fff2d6" />
<text x="2041.7" y="182.9" font-size="25" font-weight="bold" font-style="normal" fill="#000" text-anchor="middle" >b</text>
<rect x="2055.4" y="160.7" width="27.8" height="26.5" fill="#ffe5a0" />
<text x="2069.1" y="182.9" font-size="25" font-weight="bold" font-style="normal" fill="#000" text-anchor="middle" >a</text>
<rect x="2082.8" y="160.7" width="27.8" height="26.5" fill="#ffc000" />
<text x="2096.5" y="182.9" font-size="25" font-weight="bold" font-style="normal" fill="#000" text-anchor="middle" >a</text>
<rect x="2213.2" y="158.0" width="28.6" height="27.0" fill="#0000ff" />
<text x="2227.3" y="180.5" font-size="25" font-weight="bold" font-style="normal" fill="#000" text-anchor="middle" >a</text>
<rect x="2241.4" y="158.0" width="28.6" height="27.0" fill="#cce4ff" />
<text x="2255.5" y="180.5" font-size="25" font-weight="bold" font-style="normal" fill="#000" text-anchor="middle" >a</text>
<rect x="2269.6" y="158.0" width="28.6" height="27.0" fill="#5078fa" />
<text x="2283.7" y="180.5" font-size="25" font-weight="bold" font-style="normal" fill="#000" text-anchor="middle" >a</text>
<rect x="2297.8" y="158.0" width="28.6" height="27.0" fill="#6696ff" />
<text x="2311.9" y="180.5" font-size="25" font-weight="bold" font-style="normal" fill="#000" text-anchor="middle" >a</text>
<rect x="2326.0" y="158.0" width="28.6" height="27.0" fill="#ffc000" />
<text x="2340.1" y="180.5" font-size="25" font-weight="bold" font-style="normal" fill="#000" text-anchor="middle" >a</text>
<rect x="2354.2" y="158.0" width="28.6" height="27.0" fill="#ffe5a0" />
<text x="2368.3" y="180.5" font-size="25" font-weight="bold" font-style="normal" fill="#000" text-anchor="middle" >b</text>
<rect x="2382.4" y="158.0" width="28.6" height="27.0" fill="#fff2d6" />
<text x="2396.5" y="180.5" font-size="25" font-weight="bold" font-style="normal" fill="#000" text-anchor="middle" >c</text>
<rect x="1245.2" y="318.3" width="27.8" height="26.7" fill="#5078fa" />
<text x="1258.9" y="340.6" font-size="25" font-weight="bold" font-style="normal" fill="#000" text-anchor="middle" >a</text>
<rect x="1272.6" y="318.3" width="27.8" height="26.7" fill="#0000ff" />
<text x="1286.3" y="340.6" font-size="25" font-weight="bold" font-style="normal" fill="#000" text-anchor="middle" >a</text>
<rect x="1300.0" y="318.3" width="27.8" height="26.7" fill="#cce4ff" />
<text x="1313.7" y="340.6" font-size="25" font-weight="bold" font-style="normal" fill="#000" text-anchor="middle" >a</text>
<rect x="1327.4" y="318.3" width="27.8" height="26.7" fill="#bcd8fd" />
<text x="1341.1" y="340.6" font-size="25" font-weight="bold" font-style="normal" fill="#000" text-anchor="middle" >a</text>
<rect x="1359.4" y="318.3" width="27.8" height="26.7" fill="#ffc000" />
<text x="1373.1" y="340.6" font-size="25" font-weight="bold" font-style="normal" fill="#000" text-anchor="middle" >a</text>
<rect x="1386.8" y="318.3" width="27.8" height="26.7" fill="#fff2d6" />
<text x="1400.5" y="340.6" font-size="25" font-weight="bold" font-style="normal" fill="#000" text-anchor="middle" >b</text>
<rect x="1414.2" y="318.3" width="27.8" height="26.7" fill="#ffe5a0" />
<text x="1427.9" y="340.6" font-size="25" font-weight="bold" font-style="normal" fill="#000" text-anchor="middle" >b</text>
<rect x="2125.0" y="407.0" width="27.8" height="27.0" fill="#cce4ff" />
<text x="2138.7" y="429.5" font-size="25" font-weight="bold" font-style="normal" fill="#000" text-anchor="middle" >b</text>
<rect x="2152.4" y="407.0" width="27.8" height="27.0" fill="#0000ff" />
<text x="2166.1" y="429.5" font-size="25" font-weight="bold" font-style="normal" fill="#000" text-anchor="middle" >a</text>
<rect x="2179.8" y="407.0" width="27.8" height="27.0" fill="#5078fa" />
<text x="2193.5" y="429.5" font-size="25" font-weight="bold" font-style="normal" fill="#000" text-anchor="middle" >b</text>
<rect x="2207.2" y="407.0" width="27.8" height="27.0" fill="#cce4ff" />
<text x="2220.9" y="429.5" font-size="25" font-weight="bold" font-style="normal" fill="#000" text-anchor="middle" >b</text>
<rect x="2236.8" y="407.0" width="27.8" height="27.0" fill="#ffe5a0" />
<text x="2250.5" y="429.5" font-size="25" font-weight="bold" font-style="normal" fill="#000" text-anchor="middle" >a</text>
<rect x="2264.2" y="407.0" width="27.8" height="27.0" fill="#eab000" />
<text x="2277.9" y="429.5" font-size="25" font-weight="bold" font-style="normal" fill="#000" text-anchor="middle" >a</text>
<rect x="2291.6" y="407.0" width="27.8" height="27.0" fill="#fff2d6" />
<text x="2305.3" y="429.5" font-size="25" font-weight="bold" font-style="normal" fill="#000" text-anchor="middle" >a</text>
<rect x="1507.0" y="434.0" width="27.8" height="26.4" fill="#0000ff" />
<text x="1520.7" y="456.2" font-size="25" font-weight="bold" font-style="normal" fill="#000" text-anchor="middle" >a</text>
<rect x="1534.4" y="434.0" width="27.8" height="26.4" fill="#5078fa" />
<text x="1548.1" y="456.2" font-size="25" font-weight="bold" font-style="normal" fill="#000" text-anchor="middle" >b</text>
<rect x="1561.8" y="434.0" width="27.8" height="26.4" fill="#6696ff" />
<text x="1575.5" y="456.2" font-size="25" font-weight="bold" font-style="normal" fill="#000" text-anchor="middle" >bc</text>
<rect x="1589.2" y="434.0" width="27.8" height="26.4" fill="#cce4ff" />
<text x="1602.9" y="456.2" font-size="25" font-weight="bold" font-style="normal" fill="#000" text-anchor="middle" >c</text>
<rect x="1621.0" y="434.0" width="27.8" height="26.4" fill="#fff2d6" />
<text x="1634.7" y="456.2" font-size="25" font-weight="bold" font-style="normal" fill="#000" text-anchor="middle" >b</text>
<rect x="1648.4" y="434.0" width="27.8" height="26.4" fill="#ffe5a0" />
<text x="1662.1" y="456.2" font-size="25" font-weight="bold" font-style="normal" fill="#000" text-anchor="middle" >a</text>
<rect x="1675.8" y="434.0" width="27.8" height="26.4" fill="#ffc000" />
<text x="1689.5" y="456.2" font-size="25" font-weight="bold" font-style="normal" fill="#000" text-anchor="middle" >a</text>
<rect x="1511.0" y="504.4" width="27.8" height="26.6" fill="#0000ff" />
<text x="1524.7" y="526.7" font-size="25" font-weight="bold" font-style="normal" fill="#000" text-anchor="middle" >a</text>
<rect x="1538.4" y="504.4" width="27.8" height="26.6" fill="#5078fa" />
<text x="1552.1" y="526.7" font-size="25" font-weight="bold" font-style="normal" fill="#000" text-anchor="middle" >b</text>
<rect x="1565.8" y="504.4" width="27.8" height="26.6" fill="#6696ff" />
<text x="1579.5" y="526.7" font-size="25" font-weight="bold" font-style="normal" fill="#000" text-anchor="middle" >bc</text>
<rect x="1593.2" y="504.4" width="27.8" height="26.6" fill="#cce4ff" />
<text x="1606.9" y="526.7" font-size="25" font-weight="bold" font-style="normal" fill="#000" text-anchor="middle" >c</text>
<rect x="1627.0" y="504.4" width="27.8" height="26.6" fill="#fff2d6" />
<text x="1640.7" y="526.7" font-size="25" font-weight="bold" font-style="normal" fill="#000" text-anchor="middle" >b</text>
<rect x="1654.4" y="504.4" width="27.8" height="26.6" fill="#ffe5a0" />
<text x="1668.1" y="526.7" font-size="25" font-weight="bold" font-style="normal" fill="#000" text-anchor="middle" >a</text>
<rect x="1681.8" y="504.4" width="27.8" height="26.6" fill="#ffc000" />
<text x="1695.5" y="526.7" font-size="25" font-weight="bold" font-style="normal" fill="#000" text-anchor="middle" >a</text>
<rect x="1507.4" y="578.4" width="27.8" height="26.6" fill="#cce4ff" />
<text x="1521.1" y="600.7" font-size="25" font-weight="bold" font-style="normal" fill="#000" text-anchor="middle" >c</text>
<rect x="1534.8" y="578.4" width="27.8" height="26.6" fill="#5078fa" />
<text x="1548.5" y="600.7" font-size="25" font-weight="bold" font-style="normal" fill="#000" text-anchor="middle" >b</text>
<rect x="1562.2" y="578.4" width="27.8" height="26.6" fill="#0000ff" />
<text x="1575.9" y="600.7" font-size="25" font-weight="bold" font-style="normal" fill="#000" text-anchor="middle" >a</text>
<rect x="1589.6" y="578.4" width="27.8" height="26.6" fill="#a2c4fd" />
<text x="1603.3" y="600.7" font-size="25" font-weight="bold" font-style="normal" fill="#000" text-anchor="middle" >bc</text>
<rect x="1625.0" y="578.4" width="27.8" height="26.6" fill="#ffe5a0" />
<text x="1638.7" y="600.7" font-size="25" font-weight="bold" font-style="normal" fill="#000" text-anchor="middle" >ab</text>
<rect x="1652.4" y="578.4" width="27.8" height="26.6" fill="#fff2d6" />
<text x="1666.1" y="600.7" font-size="25" font-weight="bold" font-style="normal" fill="#000" text-anchor="middle" >b</text>
<rect x="1679.8" y="578.4" width="27.8" height="26.6" fill="#ffc000" />
<text x="1693.5" y="600.7" font-size="25" font-weight="bold" font-style="normal" fill="#000" text-anchor="middle" >a</text>
<rect x="2151.4" y="684.2" width="27.8" height="26.5" fill="#a2c4fd" />
<text x="2165.1" y="706.5" font-size="25" font-weight="bold" font-style="normal" fill="#000" text-anchor="middle" >b</text>
<rect x="2178.8" y="684.2" width="27.8" height="26.5" fill="#5078fa" />
<text x="2192.5" y="706.5" font-size="25" font-weight="bold" font-style="normal" fill="#000" text-anchor="middle" >b</text>
<rect x="2206.2" y="684.2" width="27.8" height="26.5" fill="#cce4ff" />
<text x="2219.9" y="706.5" font-size="25" font-weight="bold" font-style="normal" fill="#000" text-anchor="middle" >b</text>
<rect x="2233.6" y="684.2" width="27.8" height="26.5" fill="#0000ff" />
<text x="2247.3" y="706.5" font-size="25" font-weight="bold" font-style="normal" fill="#000" text-anchor="middle" >a</text>
<rect x="2267.0" y="684.2" width="27.8" height="26.5" fill="#ffc000" />
<text x="2280.7" y="706.5" font-size="25" font-weight="bold" font-style="normal" fill="#000" text-anchor="middle" >a</text>
<rect x="2294.4" y="684.2" width="27.8" height="26.5" fill="#ffe5a0" />
<text x="2308.1" y="706.5" font-size="25" font-weight="bold" font-style="normal" fill="#000" text-anchor="middle" >a</text>
<rect x="2321.8" y="684.2" width="27.8" height="26.5" fill="#fff2d6" />
<text x="2335.5" y="706.5" font-size="25" font-weight="bold" font-style="normal" fill="#000" text-anchor="middle" >a</text>
<rect x="1502.9" y="670.4" width="27.8" height="26.7" fill="#0000ff" />
<text x="1516.6" y="692.8" font-size="25" font-weight="bold" font-style="normal" fill="#000" text-anchor="middle" >a</text>
<rect x="1530.3" y="670.4" width="27.8" height="26.7" fill="#a2c4fd" />
<text x="1544.0" y="692.8" font-size="25" font-weight="bold" font-style="normal" fill="#000" text-anchor="middle" >c</text>
<rect x="1557.7" y="670.4" width="27.8" height="26.7" fill="#cce4ff" />
<text x="1571.4" y="692.8" font-size="25" font-weight="bold" font-style="normal" fill="#000" text-anchor="middle" >c</text>
<rect x="1585.1" y="670.4" width="27.8" height="26.7" fill="#5078fa" />
<text x="1598.8" y="692.8" font-size="25" font-weight="bold" font-style="normal" fill="#000" text-anchor="middle" >b</text>
<rect x="1619.3" y="670.4" width="27.8" height="26.7" fill="#ffc000" />
<text x="1633.0" y="692.8" font-size="25" font-weight="bold" font-style="normal" fill="#000" text-anchor="middle" >a</text>
<rect x="1646.7" y="670.4" width="27.8" height="26.7" fill="#fff2d6" />
<text x="1660.4" y="692.8" font-size="25" font-weight="bold" font-style="normal" fill="#000" text-anchor="middle" >b</text>
<rect x="1674.1" y="670.4" width="27.8" height="26.7" fill="#ffe5a0" />
<text x="1687.8" y="692.8" font-size="25" font-weight="bold" font-style="normal" fill="#000" text-anchor="middle" >b</text>
<rect x="1508.0" y="744.0" width="27.8" height="26.4" fill="#0000ff" />
<text x="1521.7" y="766.2" font-size="25" font-weight="bold" font-style="normal" fill="#000" text-anchor="middle" >a</text>
<rect x="1535.4" y="744.0" width="27.8" height="26.4" fill="#a2c4fd" />
<text x="1549.1" y="766.2" font-size="25" font-weight="bold" font-style="normal" fill="#000" text-anchor="middle" >c</text>
<rect x="1562.8" y="744.0" width="27.8" height="26.4" fill="#cce4ff" />
<text x="1576.5" y="766.2" font-size="25" font-weight="bold" font-style="normal" fill="#000" text-anchor="middle" >c</text>
<rect x="1590.2" y="744.0" width="27.8" height="26.4" fill="#5078fa" />
<text x="1603.9" y="766.2" font-size="25" font-weight="bold" font-style="normal" fill="#000" text-anchor="middle" >b</text>
<rect x="1621.8" y="744.0" width="27.8" height="26.4" fill="#ffc000" />
<text x="1635.5" y="766.2" font-size="25" font-weight="bold" font-style="normal" fill="#000" text-anchor="middle" >a</text>
<rect x="1649.2" y="744.0" width="27.8" height="26.4" fill="#fff2d6" />
<text x="1662.9" y="766.2" font-size="25" font-weight="bold" font-style="normal" fill="#000" text-anchor="middle" >b</text>
<rect x="1676.6" y="744.0" width="27.8" height="26.4" fill="#ffe5a0" />
<text x="1690.3" y="766.2" font-size="25" font-weight="bold" font-style="normal" fill="#000" text-anchor="middle" >b</text>
<rect x="1510.3" y="814.5" width="27.8" height="26.3" fill="#cce4ff" />
<text x="1524.0" y="836.6" font-size="25" font-weight="bold" font-style="normal" fill="#000" text-anchor="middle" >b</text>
<rect x="1537.7" y="814.5" width="27.8" height="26.3" fill="#0000ff" />
<text x="1551.4" y="836.6" font-size="25" font-weight="bold" font-style="normal" fill="#000" text-anchor="middle" >a</text>
<rect x="1565.1" y="814.5" width="27.8" height="26.3" fill="#6696ff" />
<text x="1578.8" y="836.6" font-size="25" font-weight="bold" font-style="normal" fill="#000" text-anchor="middle" >a</text>
<rect x="1592.5" y="814.5" width="27.8" height="26.3" fill="#1c22ff" />
<text x="1606.2" y="836.6" font-size="25" font-weight="bold" font-style="normal" fill="#000" text-anchor="middle" >a</text>
<rect x="1622.8" y="814.5" width="27.8" height="26.3" fill="#ffc000" />
<text x="1636.5" y="836.6" font-size="25" font-weight="bold" font-style="normal" fill="#000" text-anchor="middle" >a</text>
<rect x="1650.2" y="814.5" width="27.8" height="26.3" fill="#ffe5a0" />
<text x="1663.9" y="836.6" font-size="25" font-weight="bold" font-style="normal" fill="#000" text-anchor="middle" >ab</text>
<rect x="1677.6" y="814.5" width="27.8" height="26.3" fill="#fff2d6" />
<text x="1691.3" y="836.6" font-size="25" font-weight="bold" font-style="normal" fill="#000" text-anchor="middle" >b</text>
<rect x="2113.0" y="814.7" width="27.8" height="25.8" fill="#a2c4fd" />
<text x="2126.7" y="836.6" font-size="25" font-weight="bold" font-style="normal" fill="#000" text-anchor="middle" >b</text>
<rect x="2140.4" y="814.7" width="27.8" height="25.8" fill="#0000ff" />
<text x="2154.1" y="836.6" font-size="25" font-weight="bold" font-style="normal" fill="#000" text-anchor="middle" >a</text>
<rect x="2167.8" y="814.7" width="27.8" height="25.8" fill="#cce4ff" />
<text x="2181.5" y="836.6" font-size="25" font-weight="bold" font-style="normal" fill="#000" text-anchor="middle" >b</text>
<rect x="2195.2" y="814.7" width="27.8" height="25.8" fill="#5078fa" />
<text x="2208.9" y="836.6" font-size="25" font-weight="bold" font-style="normal" fill="#000" text-anchor="middle" >ab</text>
<rect x="2224.7" y="814.7" width="27.8" height="25.8" fill="#fff2d6" />
<text x="2238.4" y="836.6" font-size="25" font-weight="bold" font-style="normal" fill="#000" text-anchor="middle" >a</text>
<rect x="2252.1" y="814.7" width="27.8" height="25.8" fill="#ffc000" />
<text x="2265.8" y="836.6" font-size="25" font-weight="bold" font-style="normal" fill="#000" text-anchor="middle" >a</text>
<rect x="2279.5" y="814.7" width="27.8" height="25.8" fill="#ffe5a0" />
<text x="2293.2" y="836.6" font-size="25" font-weight="bold" font-style="normal" fill="#000" text-anchor="middle" >a</text>
<rect x="1775.8" y="873.8" width="27.8" height="27.0" fill="#0000ff" />
<text x="1789.5" y="896.3" font-size="25" font-weight="bold" font-style="normal" fill="#000" text-anchor="middle" >a</text>
<rect x="1803.2" y="873.8" width="27.8" height="27.0" fill="#5078fa" />
<text x="1816.9" y="896.3" font-size="25" font-weight="bold" font-style="normal" fill="#000" text-anchor="middle" >a</text>
<rect x="1830.6" y="873.8" width="27.8" height="27.0" fill="#cce4ff" />
<text x="1844.3" y="896.3" font-size="25" font-weight="bold" font-style="normal" fill="#000" text-anchor="middle" >b</text>
<rect x="1858.0" y="873.8" width="27.8" height="27.0" fill="#6696ff" />
<text x="1871.7" y="896.3" font-size="25" font-weight="bold" font-style="normal" fill="#000" text-anchor="middle" >a</text>
<rect x="1890.3" y="873.8" width="27.8" height="27.0" fill="#ffc000" />
<text x="1904.0" y="896.3" font-size="25" font-weight="bold" font-style="normal" fill="#000" text-anchor="middle" >a</text>
<rect x="1917.7" y="873.8" width="27.8" height="27.0" fill="#ffe5a0" />
<text x="1931.4" y="896.3" font-size="25" font-weight="bold" font-style="normal" fill="#000" text-anchor="middle" >b</text>
<rect x="1945.1" y="873.8" width="27.8" height="27.0" fill="#fff2d6" />
<text x="1958.8" y="896.3" font-size="25" font-weight="bold" font-style="normal" fill="#000" text-anchor="middle" >b</text>
<rect x="1778.6" y="943.2" width="27.8" height="26.7" fill="#6696ff" />
<text x="1792.3" y="965.5" font-size="25" font-weight="bold" font-style="normal" fill="#000" text-anchor="middle" >a</text>
<rect x="1806.0" y="943.2" width="27.8" height="26.7" fill="#cce4ff" />
<text x="1819.7" y="965.5" font-size="25" font-weight="bold" font-style="normal" fill="#000" text-anchor="middle" >a</text>
<rect x="1833.4" y="943.2" width="27.8" height="26.7" fill="#6696ff" />
<text x="1847.1" y="965.5" font-size="25" font-weight="bold" font-style="normal" fill="#000" text-anchor="middle" >a</text>
<rect x="1860.8" y="943.2" width="27.8" height="26.7" fill="#0000ff" />
<text x="1874.5" y="965.5" font-size="25" font-weight="bold" font-style="normal" fill="#000" text-anchor="middle" >a</text>
<rect x="1893.6" y="943.2" width="27.8" height="26.7" fill="#fff2d6" />
<text x="1907.3" y="965.5" font-size="25" font-weight="bold" font-style="normal" fill="#000" text-anchor="middle" >a</text>
<rect x="1921.0" y="943.2" width="27.8" height="26.7" fill="#ffe5a0" />
<text x="1934.7" y="965.5" font-size="25" font-weight="bold" font-style="normal" fill="#000" text-anchor="middle" >a</text>
<rect x="1948.4" y="943.2" width="27.8" height="26.7" fill="#ffc000" />
<text x="1962.1" y="965.5" font-size="25" font-weight="bold" font-style="normal" fill="#000" text-anchor="middle" >a</text>
<rect x="1146.9" y="830.0" width="27.8" height="25.0" fill="#0000ff" />
<text x="1160.6" y="851.5" font-size="25" font-weight="bold" font-style="normal" fill="#000" text-anchor="middle" >a</text>
<rect x="1174.3" y="830.0" width="27.8" height="25.0" fill="#6696ff" />
<text x="1188.0" y="851.5" font-size="25" font-weight="bold" font-style="normal" fill="#000" text-anchor="middle" >b</text>
<rect x="1201.7" y="830.0" width="27.8" height="25.0" fill="#cce4ff" />
<text x="1215.4" y="851.5" font-size="25" font-weight="bold" font-style="normal" fill="#000" text-anchor="middle" >b</text>
<rect x="1229.1" y="830.0" width="27.8" height="25.0" fill="#6696ff" />
<text x="1242.8" y="851.5" font-size="25" font-weight="bold" font-style="normal" fill="#000" text-anchor="middle" >b</text>
<rect x="1270.6" y="830.0" width="27.8" height="25.0" fill="#ffc000" />
<text x="1284.3" y="851.5" font-size="25" font-weight="bold" font-style="normal" fill="#000" text-anchor="middle" >a</text>
<rect x="1298.0" y="830.0" width="27.8" height="25.0" fill="#fff2d6" />
<text x="1311.7" y="851.5" font-size="25" font-weight="bold" font-style="normal" fill="#000" text-anchor="middle" >b</text>
<rect x="1325.4" y="830.0" width="27.8" height="25.0" fill="#ffe5a0" />
<text x="1339.1" y="851.5" font-size="25" font-weight="bold" font-style="normal" fill="#000" text-anchor="middle" >b</text>
<rect x="1463.8" y="1133.3" width="27.8" height="26.5" fill="#0000ff" />
<text x="1477.5" y="1155.5" font-size="25" font-weight="bold" font-style="normal" fill="#000" text-anchor="middle" >a</text>
<rect x="1491.2" y="1133.3" width="27.8" height="26.5" fill="#cce4ff" />
<text x="1504.9" y="1155.5" font-size="25" font-weight="bold" font-style="normal" fill="#000" text-anchor="middle" >b</text>
<rect x="1518.6" y="1133.3" width="27.8" height="26.5" fill="#a2c4fd" />
<text x="1532.3" y="1155.5" font-size="25" font-weight="bold" font-style="normal" fill="#000" text-anchor="middle" >b</text>
<rect x="1546.0" y="1133.3" width="27.8" height="26.5" fill="#5078fa" />
<text x="1559.7" y="1155.5" font-size="25" font-weight="bold" font-style="normal" fill="#000" text-anchor="middle" >ab</text>
<rect x="1576.0" y="1133.3" width="27.8" height="26.5" fill="#ffc000" />
<text x="1589.7" y="1155.5" font-size="25" font-weight="bold" font-style="normal" fill="#000" text-anchor="middle" >a</text>
<rect x="1603.4" y="1133.3" width="27.8" height="26.5" fill="#ffe5a0" />
<text x="1617.1" y="1155.5" font-size="25" font-weight="bold" font-style="normal" fill="#000" text-anchor="middle" >b</text>
<rect x="1630.8" y="1133.3" width="27.8" height="26.5" fill="#fff2d6" />
<text x="1644.5" y="1155.5" font-size="25" font-weight="bold" font-style="normal" fill="#000" text-anchor="middle" >b</text>
<rect x="1828.6" y="1069.3" width="27.8" height="26.4" fill="#0000ff" />
<text x="1842.3" y="1091.5" font-size="25" font-weight="bold" font-style="normal" fill="#000" text-anchor="middle" >a</text>
<rect x="1856.0" y="1069.3" width="27.8" height="26.4" fill="#a2c4fd" />
<text x="1869.7" y="1091.5" font-size="25" font-weight="bold" font-style="normal" fill="#000" text-anchor="middle" >c</text>
<rect x="1883.4" y="1069.3" width="27.8" height="26.4" fill="#cce4ff" />
<text x="1897.1" y="1091.5" font-size="25" font-weight="bold" font-style="normal" fill="#000" text-anchor="middle" >c</text>
<rect x="1910.8" y="1069.3" width="27.8" height="26.4" fill="#5078fa" />
<text x="1924.5" y="1091.5" font-size="25" font-weight="bold" font-style="normal" fill="#000" text-anchor="middle" >b</text>
<rect x="1942.8" y="1069.3" width="27.8" height="26.4" fill="#ffc000" />
<text x="1956.5" y="1091.5" font-size="25" font-weight="bold" font-style="normal" fill="#000" text-anchor="middle" >a</text>
<rect x="1970.2" y="1069.3" width="27.8" height="26.4" fill="#ffe5a0" />
<text x="1983.9" y="1091.5" font-size="25" font-weight="bold" font-style="normal" fill="#000" text-anchor="middle" >b</text>
<rect x="1997.6" y="1069.3" width="27.8" height="26.4" fill="#fff2d6" />
<text x="2011.3" y="1091.5" font-size="25" font-weight="bold" font-style="normal" fill="#000" text-anchor="middle" >b</text>
<rect x="1827.7" y="1134.0" width="27.8" height="26.5" fill="#0000ff" />
<text x="1841.4" y="1156.2" font-size="25" font-weight="bold" font-style="normal" fill="#000" text-anchor="middle" >a</text>
<rect x="1855.1" y="1134.0" width="27.8" height="26.5" fill="#cce4ff" />
<text x="1868.8" y="1156.2" font-size="25" font-weight="bold" font-style="normal" fill="#000" text-anchor="middle" >b</text>
<rect x="1882.5" y="1134.0" width="27.8" height="26.5" fill="#a2c4fd" />
<text x="1896.2" y="1156.2" font-size="25" font-weight="bold" font-style="normal" fill="#000" text-anchor="middle" >b</text>
<rect x="1909.9" y="1134.0" width="27.8" height="26.5" fill="#5078fa" />
<text x="1923.6" y="1156.2" font-size="25" font-weight="bold" font-style="normal" fill="#000" text-anchor="middle" >ab</text>
<rect x="1943.8" y="1134.0" width="27.8" height="26.5" fill="#ffc000" />
<text x="1957.5" y="1156.2" font-size="25" font-weight="bold" font-style="normal" fill="#000" text-anchor="middle" >a</text>
<rect x="1971.2" y="1134.0" width="27.8" height="26.5" fill="#ffe5a0" />
<text x="1984.9" y="1156.2" font-size="25" font-weight="bold" font-style="normal" fill="#000" text-anchor="middle" >b</text>
<rect x="1998.6" y="1134.0" width="27.8" height="26.5" fill="#fff2d6" />
<text x="2012.3" y="1156.2" font-size="25" font-weight="bold" font-style="normal" fill="#000" text-anchor="middle" >b</text>
<rect x="1828.2" y="1209.2" width="27.8" height="26.5" fill="#0000ff" />
<text x="1841.9" y="1231.5" font-size="25" font-weight="bold" font-style="normal" fill="#000" text-anchor="middle" >a</text>
<rect x="1855.6" y="1209.2" width="27.8" height="26.5" fill="#6696ff" />
<text x="1869.3" y="1231.5" font-size="25" font-weight="bold" font-style="normal" fill="#000" text-anchor="middle" >b</text>
<rect x="1883.0" y="1209.2" width="27.8" height="26.5" fill="#cce4ff" />
<text x="1896.7" y="1231.5" font-size="25" font-weight="bold" font-style="normal" fill="#000" text-anchor="middle" >b</text>
<rect x="1910.4" y="1209.2" width="27.8" height="26.5" fill="#5078fa" />
<text x="1924.1" y="1231.5" font-size="25" font-weight="bold" font-style="normal" fill="#000" text-anchor="middle" >ab</text>
<rect x="1943.8" y="1209.2" width="27.8" height="26.5" fill="#ffe5a0" />
<text x="1957.5" y="1231.5" font-size="25" font-weight="bold" font-style="normal" fill="#000" text-anchor="middle" >a</text>
<rect x="1971.2" y="1209.2" width="27.8" height="26.5" fill="#ffc000" />
<text x="1984.9" y="1231.5" font-size="25" font-weight="bold" font-style="normal" fill="#000" text-anchor="middle" >a</text>
<rect x="1998.6" y="1209.2" width="27.8" height="26.5" fill="#fff2d6" />
<text x="2012.3" y="1231.5" font-size="25" font-weight="bold" font-style="normal" fill="#000" text-anchor="middle" >a</text>
<rect x="2141.0" y="997.1" width="27.8" height="27.1" fill="#0000ff" />
<text x="2154.7" y="1019.7" font-size="25" font-weight="bold" font-style="normal" fill="#000" text-anchor="middle" >a</text>
<rect x="2168.4" y="997.1" width="27.8" height="27.1" fill="#6696ff" />
<text x="2182.1" y="1019.7" font-size="25" font-weight="bold" font-style="normal" fill="#000" text-anchor="middle" >b</text>
<rect x="2195.8" y="997.1" width="27.8" height="27.1" fill="#cce4ff" />
<text x="2209.5" y="1019.7" font-size="25" font-weight="bold" font-style="normal" fill="#000" text-anchor="middle" >b</text>
<rect x="2223.2" y="997.1" width="27.8" height="27.1" fill="#6696ff" />
<text x="2236.9" y="1019.7" font-size="25" font-weight="bold" font-style="normal" fill="#000" text-anchor="middle" >b</text>
<text x="2273.6" y="1019.7" font-size="25" font-weight="bold" font-style="normal" fill="#000" text-anchor="middle" >b</text>
<rect x="2287.3" y="997.1" width="27.8" height="27.1" fill="#ffe5a0" />
<text x="2301.0" y="1019.7" font-size="25" font-weight="bold" font-style="normal" fill="#000" text-anchor="middle" >a</text>
<rect x="2314.7" y="997.1" width="27.8" height="27.1" fill="#ffc000" />
<text x="2328.4" y="1019.7" font-size="25" font-weight="bold" font-style="normal" fill="#000" text-anchor="middle" >a</text>
<rect x="2142.6" y="1060.6" width="27.8" height="26.9" fill="#0000ff" />
<text x="2156.3" y="1083.0" font-size="25" font-weight="bold" font-style="normal" fill="#000" text-anchor="middle" >a</text>
<rect x="2170.0" y="1060.6" width="27.8" height="26.9" fill="#5078fa" />
<text x="2183.7" y="1083.0" font-size="25" font-weight="bold" font-style="normal" fill="#000" text-anchor="middle" >b</text>
<rect x="2197.4" y="1060.6" width="27.8" height="26.9" fill="#a2c4fd" />
<text x="2211.1" y="1083.0" font-size="25" font-weight="bold" font-style="normal" fill="#000" text-anchor="middle" >b</text>
<rect x="2224.8" y="1060.6" width="27.8" height="26.9" fill="#cce4ff" />
<text x="2238.5" y="1083.0" font-size="25" font-weight="bold" font-style="normal" fill="#000" text-anchor="middle" >b</text>
<text x="2274.5" y="1083.0" font-size="25" font-weight="bold" font-style="normal" fill="#000" text-anchor="middle" >b</text>
<rect x="2288.2" y="1060.6" width="27.8" height="26.9" fill="#ffe5a0" />
<text x="2301.9" y="1083.0" font-size="25" font-weight="bold" font-style="normal" fill="#000" text-anchor="middle" >a</text>
<rect x="2315.6" y="1060.6" width="27.8" height="26.9" fill="#ffc000" />
<text x="2329.3" y="1083.0" font-size="25" font-weight="bold" font-style="normal" fill="#000" text-anchor="middle" >a</text>
<rect x="2144.3" y="1132.7" width="27.8" height="26.7" fill="#0000ff" />
<text x="2158.0" y="1155.1" font-size="25" font-weight="bold" font-style="normal" fill="#000" text-anchor="middle" >a</text>
<rect x="2171.7" y="1132.7" width="27.8" height="26.7" fill="#cce4ff" />
<text x="2185.4" y="1155.1" font-size="25" font-weight="bold" font-style="normal" fill="#000" text-anchor="middle" >b</text>
<rect x="2199.1" y="1132.7" width="27.8" height="26.7" fill="#a2c4fd" />
<text x="2212.8" y="1155.1" font-size="25" font-weight="bold" font-style="normal" fill="#000" text-anchor="middle" >b</text>
<rect x="2226.5" y="1132.7" width="27.8" height="26.7" fill="#1c22ff" />
<text x="2240.2" y="1155.1" font-size="25" font-weight="bold" font-style="normal" fill="#000" text-anchor="middle" >a</text>
<rect x="2258.7" y="1132.7" width="27.8" height="26.7" fill="#ffc000" />
<text x="2272.4" y="1155.1" font-size="25" font-weight="bold" font-style="normal" fill="#000" text-anchor="middle" >a</text>
<rect x="2286.1" y="1132.7" width="27.8" height="26.7" fill="#ffe5a0" />
<text x="2299.8" y="1155.1" font-size="25" font-weight="bold" font-style="normal" fill="#000" text-anchor="middle" >b</text>
<text x="2327.2" y="1155.1" font-size="25" font-weight="bold" font-style="normal" fill="#000" text-anchor="middle" >b</text>
<rect x="2139.5" y="1204.1" width="27.8" height="26.6" fill="#cce4ff" />
<text x="2153.2" y="1226.4" font-size="25" font-weight="bold" font-style="normal" fill="#000" text-anchor="middle" >b</text>
<rect x="2166.9" y="1204.1" width="27.8" height="26.6" fill="#5078fa" />
<text x="2180.6" y="1226.4" font-size="25" font-weight="bold" font-style="normal" fill="#000" text-anchor="middle" >b</text>
<rect x="2194.3" y="1204.1" width="27.8" height="26.6" fill="#0000ff" />
<text x="2208.0" y="1226.4" font-size="25" font-weight="bold" font-style="normal" fill="#000" text-anchor="middle" >a</text>
<rect x="2221.7" y="1204.1" width="27.8" height="26.6" fill="#a2c4fd" />
<text x="2235.4" y="1226.4" font-size="25" font-weight="bold" font-style="normal" fill="#000" text-anchor="middle" >b</text>
<text x="2269.3" y="1226.4" font-size="25" font-weight="bold" font-style="normal" fill="#000" text-anchor="middle" >a</text>
<rect x="2283.0" y="1204.1" width="27.8" height="26.6" fill="#ffe5a0" />
<text x="2296.7" y="1226.4" font-size="25" font-weight="bold" font-style="normal" fill="#000" text-anchor="middle" >a</text>
<rect x="2310.4" y="1204.1" width="27.8" height="26.6" fill="#ffc000" />
<text x="2324.1" y="1226.4" font-size="25" font-weight="bold" font-style="normal" fill="#000" text-anchor="middle" >a</text>
<rect x="1827.7" y="339.5" width="27.8" height="26.1" fill="#ffc000" />
<text x="1841.4" y="361.6" font-size="25" font-weight="bold" font-style="normal" fill="#000" text-anchor="middle" >a</text>
<rect x="1855.1" y="339.5" width="27.8" height="26.1" fill="#fff2d6" />
<text x="1868.8" y="361.6" font-size="25" font-weight="bold" font-style="normal" fill="#000" text-anchor="middle" >b</text>
<rect x="1882.5" y="339.5" width="27.8" height="26.1" fill="#ffe5a0" />
<text x="1896.2" y="361.6" font-size="25" font-weight="bold" font-style="normal" fill="#000" text-anchor="middle" >b</text>
<rect x="2015.7" y="491.2" width="27.8" height="26.4" fill="#ffc000" />
<text x="2029.4" y="513.4" font-size="25" font-weight="bold" font-style="normal" fill="#000" text-anchor="middle" >a</text>
<rect x="2043.1" y="491.2" width="27.8" height="26.4" fill="#fff2d6" />
<text x="2056.8" y="513.4" font-size="25" font-weight="bold" font-style="normal" fill="#000" text-anchor="middle" >b</text>
<rect x="2070.5" y="491.2" width="27.8" height="26.4" fill="#ffe5a0" />
<text x="2084.2" y="513.4" font-size="25" font-weight="bold" font-style="normal" fill="#000" text-anchor="middle" >b</text>
<rect x="1980.0" y="587.2" width="27.8" height="26.4" fill="#ffc000" />
<text x="1993.7" y="609.4" font-size="25" font-weight="bold" font-style="normal" fill="#000" text-anchor="middle" >a</text>
<rect x="2007.4" y="587.2" width="27.8" height="26.4" fill="#fff2d6" />
<text x="2021.1" y="609.4" font-size="25" font-weight="bold" font-style="normal" fill="#000" text-anchor="middle" >b</text>
<rect x="2034.8" y="587.2" width="27.8" height="26.4" fill="#ffe5a0" />
<text x="2048.5" y="609.4" font-size="25" font-weight="bold" font-style="normal" fill="#000" text-anchor="middle" >b</text>
<text x="2228.1" y="618.5" font-size="25" font-weight="bold" font-style="normal" fill="#000" text-anchor="middle" >ab</text>
<rect x="2241.8" y="596.4" width="27.8" height="26.2" fill="#0000ff" />
<text x="2255.5" y="618.5" font-size="25" font-weight="bold" font-style="normal" fill="#000" text-anchor="middle" >a</text>
<rect x="2269.2" y="596.4" width="27.8" height="26.2" fill="#cce4ff" />
<text x="2282.9" y="618.5" font-size="25" font-weight="bold" font-style="normal" fill="#000" text-anchor="middle" >b</text>
<rect x="2296.6" y="596.4" width="27.8" height="26.2" fill="#1c22ff" />
<text x="2310.3" y="618.5" font-size="25" font-weight="bold" font-style="normal" fill="#000" text-anchor="middle" >a</text>
<rect x="2329.6" y="596.4" width="27.8" height="26.2" fill="#ffc000" />
<text x="2343.3" y="618.5" font-size="25" font-weight="bold" font-style="normal" fill="#000" text-anchor="middle" >a</text>
<rect x="2357.0" y="596.4" width="27.8" height="26.2" fill="#ffe5a0" />
<text x="2370.7" y="618.5" font-size="25" font-weight="bold" font-style="normal" fill="#000" text-anchor="middle" >b</text>
<rect x="2384.4" y="596.4" width="27.8" height="26.2" fill="#fff2d6" />
<text x="2398.1" y="618.5" font-size="25" font-weight="bold" font-style="normal" fill="#000" text-anchor="middle" >b</text>
<text x="1164.1" y="884.0" font-size="27" font-weight="bold" font-style="normal" fill="#222" text-anchor="middle" >A</text>
<text x="1191.4" y="884.0" font-size="27" font-weight="bold" font-style="normal" fill="#222" text-anchor="middle" >C</text>
<text x="1220.0" y="884.0" font-size="27" font-weight="bold" font-style="normal" fill="#222" text-anchor="middle" >G</text>
<text x="1248.0" y="884.0" font-size="27" font-weight="bold" font-style="normal" fill="#222" text-anchor="middle" >M</text>
<text transform="translate(1291.5,863) rotate(-90)" font-size="27" font-weight="bold" fill="#222" text-anchor="end">Ae</text>
<text transform="translate(1321,863) rotate(-90)" font-size="27" font-weight="bold" fill="#222" text-anchor="end">Am</text>
<text transform="translate(1348,863) rotate(-90)" font-size="27" font-weight="bold" fill="#222" text-anchor="end">Al</text>
</svg></body></html>
